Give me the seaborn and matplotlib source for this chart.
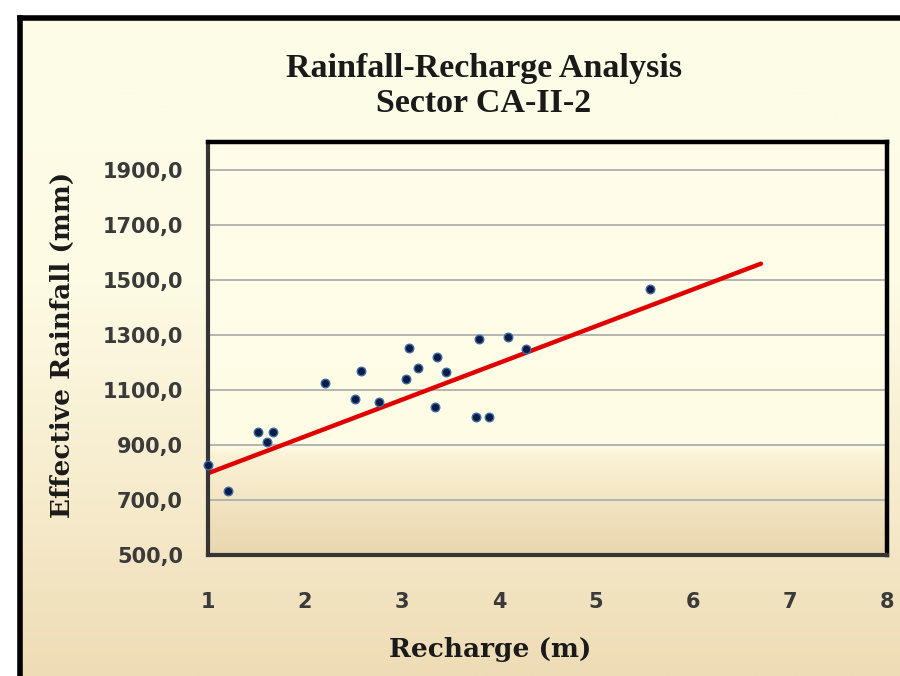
import numpy as np
import pandas as pd
import matplotlib
matplotlib.use("Agg")
import matplotlib.pyplot as plt
from matplotlib.colors import LinearSegmentedColormap
from matplotlib.lines import Line2D
import seaborn as sns

# values
recharge_m = [1.00, 1.21, 1.52, 1.61, 1.665, 2.21, 2.52, 2.58, 2.76, 3.04, 3.07,
              3.16, 3.34, 3.36, 3.45, 3.76, 3.79, 3.90, 4.09, 4.28, 5.56]
rainfall_mm = [827, 732, 946, 912, 945, 1124, 1066, 1170, 1054, 1140, 1251,
               1179, 1036, 1219, 1163, 1002, 1283, 1002, 1290, 1249, 1466]
trend_x = [1.0, 6.70]
trend_y = [797, 1558]
x_ticks = [1, 2, 3, 4, 5, 6, 7, 8]
y_ticks = [500, 700, 900, 1100, 1300, 1500, 1700, 1900]

df = pd.DataFrame({"Recharge": recharge_m, "Rainfall": rainfall_mm})
trend = pd.DataFrame({"Recharge": trend_x, "Rainfall": trend_y})

sns.set_style("white")
plt.rcParams["font.family"] = ["DejaVu Sans"]

fig = plt.figure(figsize=(9, 6.76), dpi=100, facecolor="white")

# chart area background with gradient towards the bottom
bg = fig.add_axes([22 / 900, 0, 1 - 22 / 900, 1 - 20 / 676], zorder=-10)
bg_cmap = LinearSegmentedColormap.from_list(
    "bg", [(0.0, "#FDFDE8"), (0.40, "#FDFBE4"), (0.75, "#F6EACB"), (1.0, "#EEDCB5")])
bg.imshow(np.linspace(0, 1, 256).reshape(-1, 1), aspect="auto", cmap=bg_cmap,
          extent=[0, 1, 1, 0])
bg.axis("off")

# outer frame, left and top edges only show
fig.add_artist(Line2D([20 / 900, 20 / 900], [0, 1 - 18 / 676], color="black",
                      lw=4, transform=fig.transFigure, solid_capstyle="projecting"))
fig.add_artist(Line2D([20 / 900, 1], [1 - 18 / 676, 1 - 18 / 676], color="black",
                      lw=4, transform=fig.transFigure, solid_capstyle="projecting"))

ax = fig.add_axes([208 / 900, 1 - 555 / 676, (887 - 208) / 900, (555 - 142) / 676])
ax.set_xlim(1, 8)
ax.set_ylim(500, 2000)

plot_cmap = LinearSegmentedColormap.from_list(
    "plot", [(0.0, "#FFFDEA"), (0.733, "#FFFCE6"), (0.76, "#FBF2D6"), (1.0, "#E8D6AD")])
ax.imshow(np.linspace(0, 1, 256).reshape(-1, 1), aspect="auto", cmap=plot_cmap,
          extent=[0, 1, 0, 1], transform=ax.transAxes, zorder=0)

ax.set_yticks(y_ticks)
ax.set_xticks(x_ticks)
ax.grid(axis="y", color="#A8A8A8", lw=1.2, zorder=1)
ax.set_axisbelow(False)

sns.lineplot(data=trend, x="Recharge", y="Rainfall", ax=ax, color="#E00000",
             lw=3.2, zorder=3)
sns.scatterplot(data=df, x="Recharge", y="Rainfall", ax=ax, color="#0B1B44",
                edgecolor="#3D6CAA", linewidth=1.0, s=38, zorder=6,
                clip_on=False)

ax.set_xlabel("")
ax.set_ylabel("")
ax.set_yticklabels([f"{v:.1f}".replace(".", ",") for v in y_ticks])
ax.set_xticklabels([str(v) for v in x_ticks])
ax.tick_params(axis="y", length=7, width=1.5, color="#8C8C8C", pad=11,
               labelsize=15, labelcolor="#3A3A3A")
ax.tick_params(axis="x", length=7, width=1.5, color="#8C8C8C", pad=20,
               labelsize=15, labelcolor="#3A3A3A")
for lbl in ax.get_xticklabels() + ax.get_yticklabels():
    lbl.set_fontweight("bold")

for side in ["left", "bottom"]:
    ax.spines[side].set_color("#353535")
    ax.spines[side].set_linewidth(3)
for side in ["top", "right"]:
    ax.spines[side].set_color("black")
    ax.spines[side].set_linewidth(3.2)
for sp in ax.spines.values():
    sp.set_zorder(5)

fig.text(484 / 900, 1 - 68 / 676, "Rainfall-Recharge Analysis", ha="center",
         va="center", fontsize=24.5, fontweight="bold", family="Liberation Serif",
         color="#1A1A1A")
fig.text(484 / 900, 1 - 104 / 676, "Sector CA-II-2", ha="center", va="center",
         fontsize=24.5, fontweight="bold", family="Liberation Serif", color="#1A1A1A")
fig.text(490 / 900, 1 - 650 / 676, "Recharge (m)", ha="center", va="center",
         fontsize=19, fontweight="bold", family="DejaVu Serif", color="#1A1A1A")
fig.text(62 / 900, 1 - 345 / 676, "Effective Rainfall (mm)", ha="center",
         va="center", rotation=90, fontsize=19, fontweight="bold",
         family="DejaVu Serif", color="#1A1A1A")

fig.savefig("out.png", dpi=100, facecolor=fig.get_facecolor())
